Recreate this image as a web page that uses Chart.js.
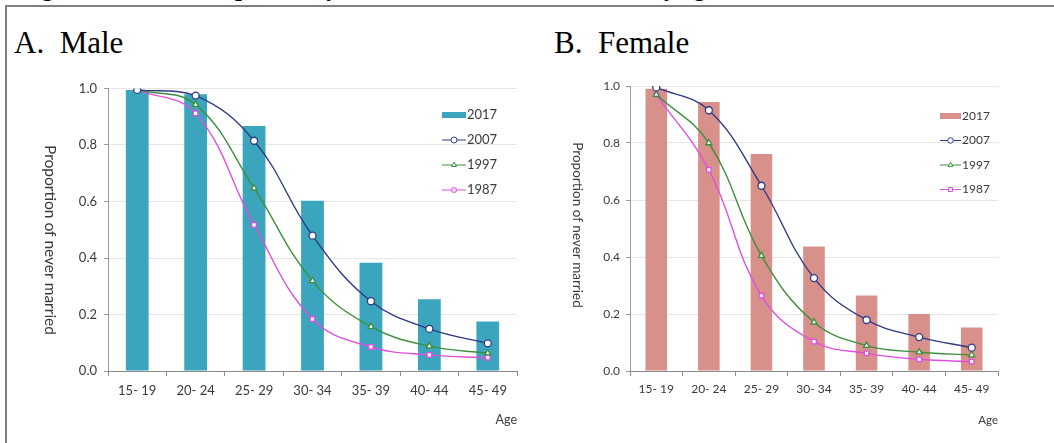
<!DOCTYPE html>
<html><head><meta charset="utf-8">
<script src="https://cdn.jsdelivr.net/npm/chart.js@4"></script>
<style>
html,body{margin:0;padding:0;background:#fff;}
body{width:1054px;height:443px;overflow:hidden;position:relative;}
#frame{position:absolute;left:5px;top:5px;width:1100px;height:500px;border-left:2px solid #808080;border-top:2px solid #808080;}
.figt{position:absolute;top:-24px;font:bold italic 24px/24px "Liberation Serif",serif;white-space:pre;color:#000;}
.panel{position:absolute;top:27px;font:31px/31px "Liberation Serif",serif;white-space:pre;color:#000;}
.chartbox{position:absolute;background:#fff;}
</style></head>
<body>
<div class="figt" style="left:21px">Figure 1.</div>
<div class="figt" style="left:201px">Proportion of never married women and men by age, 1987–2017</div>
<div id="frame"></div>
<div class="panel" style="left:14px">A.  Male</div>
<div class="panel" style="left:554px">B.  Female</div>
<div class="chartbox" style="left:14px;top:62px;width:538px;height:378px;"><canvas id="male" width="538" height="378"></canvas></div>
<div class="chartbox" style="left:552px;top:62px;width:478px;height:370px;"><canvas id="female" width="478" height="370"></canvas></div>
<script>
// ---- data ----
const ageGroups = ['15- 19','20- 24','25- 29','30- 34','35- 39','40- 44','45- 49'];
const seriesYears = ['2017','2007','1997','1987'];
const yAxisTitle = 'Proportion of never married';
const xAxisTitle = 'Age';

const male2017 = [0.995, 0.980, 0.867, 0.603, 0.383, 0.254, 0.175];
const male2007 = [0.995, 0.975, 0.815, 0.479, 0.247, 0.149, 0.098];
const male1997 = [0.995, 0.943, 0.647, 0.319, 0.157, 0.088, 0.063];
const male1987 = [0.995, 0.912, 0.517, 0.184, 0.085, 0.057, 0.047];

const female2017 = [0.990, 0.944, 0.761, 0.437, 0.265, 0.200, 0.153];
const female2007 = [0.995, 0.915, 0.650, 0.326, 0.179, 0.119, 0.082];
const female1997 = [0.970, 0.800, 0.405, 0.171, 0.089, 0.066, 0.056];
const female1987 = [0.970, 0.706, 0.264, 0.103, 0.062, 0.041, 0.033];

// ---- plugins ----
const boxLegend = {
  id: 'boxLegend',
  afterDatasetsDraw(chart, args, o) {
    const ctx = chart.ctx;
    ctx.save();
    chart.data.datasets.forEach((ds, i) => {
      const y = o.y + i * o.rowGap;
      const x0 = o.x, x1 = o.x + o.symbolWidth;
      if (ds.type === 'bar') {
        ctx.fillStyle = ds.backgroundColor;
        ctx.fillRect(x0, y - o.boxHeight / 2, o.symbolWidth, o.boxHeight);
      } else {
        ctx.strokeStyle = ds.borderColor;
        ctx.lineWidth = 1;
        ctx.beginPath(); ctx.moveTo(x0, y); ctx.lineTo(x1, y); ctx.stroke();
        ctx.fillStyle = '#ffffff';
        ctx.strokeStyle = ds.borderColor;
        ctx.lineWidth = 1;
        Chart.helpers.drawPoint(ctx, {pointStyle: ds.pointStyle, radius: o.pointRadius, borderWidth: 1, rotation: 0}, (x0 + x1) / 2, y);
      }
      ctx.fillStyle = o.color;
      ctx.font = o.font;
      ctx.textAlign = 'left';
      ctx.textBaseline = 'middle';
      ctx.fillText(ds.label, o.textX, y);
    });
    ctx.restore();
  }
};
const sideTitle = {
  id: 'sideTitle',
  afterDraw(chart, args, o) {
    const ctx = chart.ctx;
    ctx.save();
    ctx.translate(o.x, o.y);
    ctx.rotate(Math.PI / 2);
    ctx.font = o.font;
    ctx.fillStyle = o.color;
    ctx.textAlign = 'center';
    ctx.textBaseline = 'middle';
    ctx.fillText(o.text, 0, 0);
    ctx.restore();
  }
};

const lineStyles = [
  {color: '#2e3a87', pointStyle: 'circle', radius: 3.5},
  {color: '#3d8f3d', pointStyle: 'triangle', radius: 3.5},
  {color: '#df4ede', pointStyle: 'rect', radius: 3.2}
];

function buildDatasets(bars, lines, barColor, barPct) {
  const ds = [{
    type: 'bar', label: seriesYears[0], data: bars,
    backgroundColor: barColor, barPercentage: barPct, categoryPercentage: 1, order: 5
  }];
  lines.forEach((vals, i) => {
    const st = lineStyles[i];
    ds.push({
      type: 'line', label: seriesYears[i + 1], data: vals,
      borderColor: st.color, backgroundColor: '#ffffff',
      pointBackgroundColor: '#ffffff', pointBorderColor: st.color,
      pointStyle: st.pointStyle, pointRadius: st.radius, pointBorderWidth: 1.3,
      borderWidth: 1.4, tension: 0.4, fill: false, order: 1 + i
    });
  });
  return ds;
}

function makeChart(id, datasets, L) {
  return new Chart(document.getElementById(id), {
    data: {labels: ageGroups, datasets: datasets},
    plugins: [boxLegend, sideTitle],
    options: {
      responsive: false, animation: false, devicePixelRatio: 1,
      layout: {padding: {left: 0, top: L.top, right: L.right, bottom: 0}},
      plugins: {
        legend: {display: false}, tooltip: {enabled: false},
        boxLegend: L.legend,
        sideTitle: {text: yAxisTitle, x: L.ytX, y: L.ytY, font: L.ytFont, color: '#3a3a3a'}
      },
      scales: {
        x: {
          type: 'category', offset: true,
          grid: {display: true, drawOnChartArea: false, offset: true, tickLength: 5, color: '#8a8a8a', tickColor: '#8a8a8a'},
          border: {display: true, color: '#8a8a8a', width: 1},
          ticks: {font: {family: 'Lato', size: L.tick}, color: '#3a3a3a', padding: L.xPad, maxRotation: 0, autoSkip: false},
          title: {display: true, text: xAxisTitle, align: 'end', font: {family: 'Lato', size: L.ageSize}, color: '#3a3a3a', padding: {top: 0, bottom: L.agePad}},
          afterFit(s) { s.height = L.xH; }
        },
        y: {
          min: 0, max: 1,
          ticks: {stepSize: 0.2, font: {family: 'Lato', size: L.tick}, color: '#3a3a3a', padding: L.yPad, callback: v => Number(v).toFixed(1)},
          grid: {color: '#e6e6e6', tickLength: 4, tickColor: '#9a9a9a', lineWidth: 1},
          border: {display: true, color: '#9a9a9a', width: 1},
          afterFit(s) { s.width = L.yW; }
        }
      }
    }
  });
}

function draw() {
  makeChart('male', buildDatasets(male2017, [male2007, male1997, male1987], '#3ba5be', 0.39), {
    top: 26.5, right: 35, yW: 94, xH: 69, tick: 13, xPad: 7, yPad: 7, ageSize: 12.5, agePad: 13,
    ytX: 36, ytY: 178, ytFont: '15.5px Lato',
    legend: {x: 428, symbolWidth: 24, textX: 453, y: 53, rowGap: 25, boxHeight: 6, pointRadius: 3, font: '13px Lato', color: '#3a3a3a'}
  });
  makeChart('female', buildDatasets(female2017, [female2007, female1997, female1987], '#d8918a', 0.41), {
    top: 24, right: 32, yW: 78, xH: 61, tick: 12, xPad: 6, yPad: 6, ageSize: 11.5, agePad: 5,
    ytX: 25, ytY: 163, ytFont: '13.5px Lato',
    legend: {x: 388, symbolWidth: 21, textX: 410, y: 54, rowGap: 24.5, boxHeight: 6, pointRadius: 2.8, font: '12px Lato', color: '#3a3a3a'}
  });
}
if (document.fonts && document.fonts.load) {
  Promise.all([document.fonts.load('13px Lato'), document.fonts.load('31px "Liberation Serif"')]).then(draw, draw);
} else { draw(); }
</script>
</body></html>
